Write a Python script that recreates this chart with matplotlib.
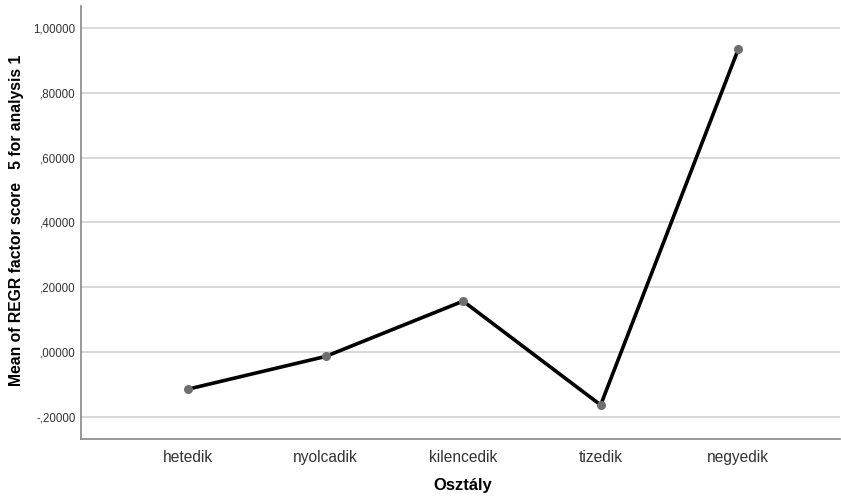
import matplotlib.pyplot as plt
from matplotlib.ticker import FuncFormatter

plt.rcParams['font.family'] = ['Liberation Sans', 'DejaVu Sans']

categories = ["hetedik", "nyolcadik", "kilencedik", "tizedik", "negyedik"]
means = [-0.115, -0.014, 0.157, -0.164, 0.935]
y_ticks = [-0.2, 0.0, 0.2, 0.4, 0.6, 0.8, 1.0]


def spss_fmt(v, pos):
    # SPSS style: comma decimal, no leading zero
    s = "%.5f" % v
    s = s.replace(".", ",")
    if s.startswith("0,"):
        s = s[1:]
    elif s.startswith("-0,"):
        s = "-" + s[2:]
    return s


fig = plt.figure(figsize=(8.41, 4.98), dpi=100)
ax = fig.add_axes([81 / 841, 1 - 439.3 / 498, 759 / 841, 433.3 / 498])

x = list(range(len(categories)))
ax.plot(x, means, color="black", linewidth=2.6, zorder=3)
ax.plot(x, means, linestyle="none", marker="o", markersize=5.5,
        color="#6e6e6e", zorder=4)

ax.set_xlim(-0.778, 4.74)
ax.set_ylim(-0.27, 1.069)
ax.set_yticks(y_ticks)
ax.yaxis.set_major_formatter(FuncFormatter(spss_fmt))
ax.set_xticks(x)
ax.set_xticklabels(categories, fontsize=11.2, color="#333333")
ax.tick_params(axis="y", labelsize=8.3, colors="#333333", length=0, pad=4)
ax.tick_params(axis="x", length=0, pad=8)

ax.grid(axis="y", color="#cfcfcf", linewidth=1.1)
ax.set_axisbelow(True)
for side in ["top", "right"]:
    ax.spines[side].set_visible(False)
for side in ["left", "bottom"]:
    ax.spines[side].set_color("#888888")
    ax.spines[side].set_linewidth(1.2)

fig.text(17 / 841, 1 - 220 / 498, "Mean of REGR factor score   5 for analysis 1",
         rotation=90, ha="center", va="center", fontsize=11.3, fontweight="bold")
fig.text(462.5 / 841, 1 - 485 / 498, "Osztály",
         ha="center", va="center", fontsize=12, fontweight="bold")

fig.savefig("out.png", dpi=100)
